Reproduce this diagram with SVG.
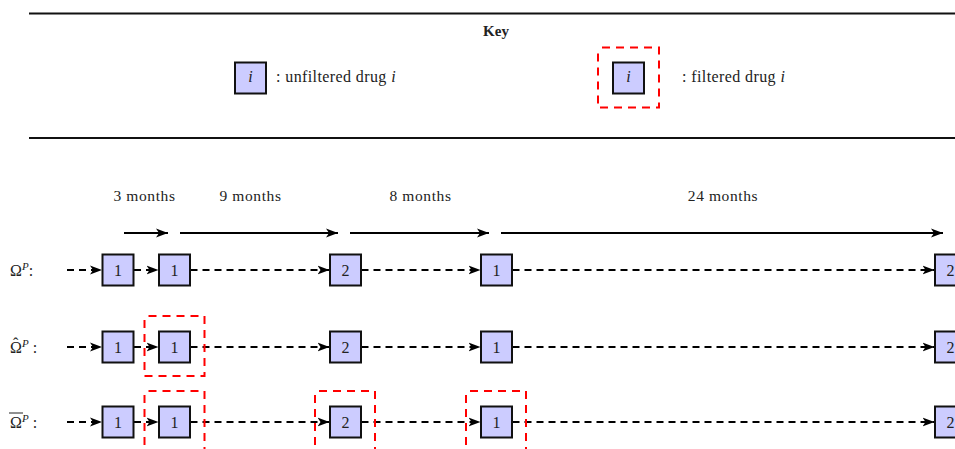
<svg xmlns="http://www.w3.org/2000/svg" width="955" height="449" viewBox="0 0 955 449">
<style>
text{font-family:"Liberation Serif","DejaVu Serif",serif;fill:#222;font-size:15px}
.box{fill:#ccccff;stroke:#111;stroke-width:2}
.num{text-anchor:middle;font-size:16px}
.flt{fill:none;stroke:#ff0000;stroke-width:2;stroke-dasharray:8 6;stroke-dashoffset:-4}
.dash{stroke:#000;stroke-width:2;stroke-dasharray:7 5;fill:none}
.solid{stroke:#000;stroke-width:2;fill:none}
.rule{stroke:#111;stroke-width:2}
.mid{text-anchor:middle}
.tl{text-anchor:middle;font-size:15.5px;letter-spacing:0.6px}
.kt{font-size:16px;letter-spacing:0.4px}
.lbl{font-size:16px}
.sup{font-size:11px;font-style:italic}
</style>
<defs>
<marker id="ah" markerUnits="userSpaceOnUse" markerWidth="14" markerHeight="10" refX="12" refY="5" orient="auto">
<path d="M0,0.5 L12,5 L0,9.5 L3,5 Z" fill="#000"/>
</marker>
</defs>
<g id="key">
<line class="rule" x1="29" y1="13.5" x2="955" y2="13.5"/>
<line class="rule" x1="29" y1="138" x2="955" y2="138"/>
<text x="496" y="36" class="mid" style="font-weight:bold">Key</text>
<g id="key-unfiltered">
<rect class="box" x="235" y="62.5" width="31" height="31"/>
<text x="250.5" y="82" class="num" style="font-style:italic">i</text>
<text x="276" y="82" class="kt">:  unfiltered drug <tspan style="font-style:italic">i</tspan></text>
</g>
<g id="key-filtered">
<rect class="flt" x="598" y="47.5" width="61" height="60"/>
<rect class="box" x="613" y="62.5" width="31" height="31"/>
<text x="628.5" y="82" class="num" style="font-style:italic">i</text>
<text x="682" y="82" class="kt">:  filtered drug <tspan style="font-style:italic">i</tspan></text>
</g>
</g>
<g id="timeline">
<text x="144.5" y="201" class="tl">3 months</text>
<text x="250.5" y="201" class="tl">9 months</text>
<text x="420.5" y="201" class="tl">8 months</text>
<text x="723" y="201" class="tl">24 months</text>
</g>
<g id="connectors">
<line class="solid" x1="124" y1="233" x2="168" y2="233" marker-end="url(#ah)"/>
<line class="solid" x1="180" y1="233" x2="338" y2="233" marker-end="url(#ah)"/>
<line class="solid" x1="350" y1="233" x2="489" y2="233" marker-end="url(#ah)"/>
<line class="solid" x1="501" y1="233" x2="943" y2="233" marker-end="url(#ah)"/>
<line class="dash" x1="67" y1="270" x2="102" y2="270" marker-end="url(#ah)"/>
<line class="dash" x1="134" y1="270" x2="158.5" y2="270" marker-end="url(#ah)"/>
<line class="dash" x1="190.5" y1="270" x2="329.5" y2="270" marker-end="url(#ah)"/>
<line class="dash" x1="361.5" y1="270" x2="480.5" y2="270" marker-end="url(#ah)"/>
<line class="dash" x1="512.5" y1="270" x2="934.5" y2="270" marker-end="url(#ah)"/>
<line class="dash" x1="67" y1="347" x2="102" y2="347" marker-end="url(#ah)"/>
<line class="dash" x1="134" y1="347" x2="158.5" y2="347" marker-end="url(#ah)"/>
<line class="dash" x1="190.5" y1="347" x2="329.5" y2="347" marker-end="url(#ah)"/>
<line class="dash" x1="361.5" y1="347" x2="480.5" y2="347" marker-end="url(#ah)"/>
<line class="dash" x1="512.5" y1="347" x2="934.5" y2="347" marker-end="url(#ah)"/>
<line class="dash" x1="67" y1="422" x2="102" y2="422" marker-end="url(#ah)"/>
<line class="dash" x1="134" y1="422" x2="158.5" y2="422" marker-end="url(#ah)"/>
<line class="dash" x1="190.5" y1="422" x2="329.5" y2="422" marker-end="url(#ah)"/>
<line class="dash" x1="361.5" y1="422" x2="480.5" y2="422" marker-end="url(#ah)"/>
<line class="dash" x1="512.5" y1="422" x2="934.5" y2="422" marker-end="url(#ah)"/>
</g>
<g id="row1">
<text x="10" y="276" class="lbl">Ω<tspan dy="-6" class="sup">P</tspan><tspan dy="6">:</tspan></text>
<g id="r1n1"><rect class="box" x="102.5" y="254.5" width="31" height="31"/><text x="118" y="275.5" class="num">1</text></g>
<g id="r1n2"><rect class="box" x="159" y="254.5" width="31" height="31"/><text x="174.5" y="275.5" class="num">1</text></g>
<g id="r1n3"><rect class="box" x="330" y="254.5" width="31" height="31"/><text x="345.5" y="275.5" class="num">2</text></g>
<g id="r1n4"><rect class="box" x="481" y="254.5" width="31" height="31"/><text x="496.5" y="275.5" class="num">1</text></g>
<g id="r1n5"><rect class="box" x="935" y="254.5" width="31" height="31"/><text x="950.5" y="275.5" class="num">2</text></g>
</g>
<g id="row2">
<text x="10" y="353" class="lbl">Ω<tspan dx="-8.8" dy="-4.5">ˆ</tspan><tspan dx="3.5" dy="-1.5" class="sup">P</tspan><tspan dy="6"> :</tspan></text>
<g id="r2n1"><rect class="box" x="102.5" y="331.5" width="31" height="31"/><text x="118" y="352.5" class="num">1</text></g>
<g id="r2n2"><rect class="flt" x="144.5" y="316" width="60" height="60"/><rect class="box" x="159" y="331.5" width="31" height="31"/><text x="174.5" y="352.5" class="num">1</text></g>
<g id="r2n3"><rect class="box" x="330" y="331.5" width="31" height="31"/><text x="345.5" y="352.5" class="num">2</text></g>
<g id="r2n4"><rect class="box" x="481" y="331.5" width="31" height="31"/><text x="496.5" y="352.5" class="num">1</text></g>
<g id="r2n5"><rect class="box" x="935" y="331.5" width="31" height="31"/><text x="950.5" y="352.5" class="num">2</text></g>
</g>
<g id="row3">
<text x="10" y="428" class="lbl">Ω<tspan dy="-6" class="sup">P</tspan><tspan dy="6"> :</tspan></text>
<line x1="9" y1="413" x2="23" y2="413" stroke="#222" stroke-width="1"/>
<g id="r3n1"><rect class="box" x="102.5" y="406.5" width="31" height="31"/><text x="118" y="427.5" class="num">1</text></g>
<g id="r3n2"><rect class="flt" x="144.5" y="391" width="60" height="60"/><rect class="box" x="159" y="406.5" width="31" height="31"/><text x="174.5" y="427.5" class="num">1</text></g>
<g id="r3n3"><rect class="flt" x="315" y="391" width="60" height="60"/><rect class="box" x="330" y="406.5" width="31" height="31"/><text x="345.5" y="427.5" class="num">2</text></g>
<g id="r3n4"><rect class="flt" x="466" y="391" width="60" height="60"/><rect class="box" x="481" y="406.5" width="31" height="31"/><text x="496.5" y="427.5" class="num">1</text></g>
<g id="r3n5"><rect class="box" x="935" y="406.5" width="31" height="31"/><text x="950.5" y="427.5" class="num">2</text></g>
</g>
</svg>
